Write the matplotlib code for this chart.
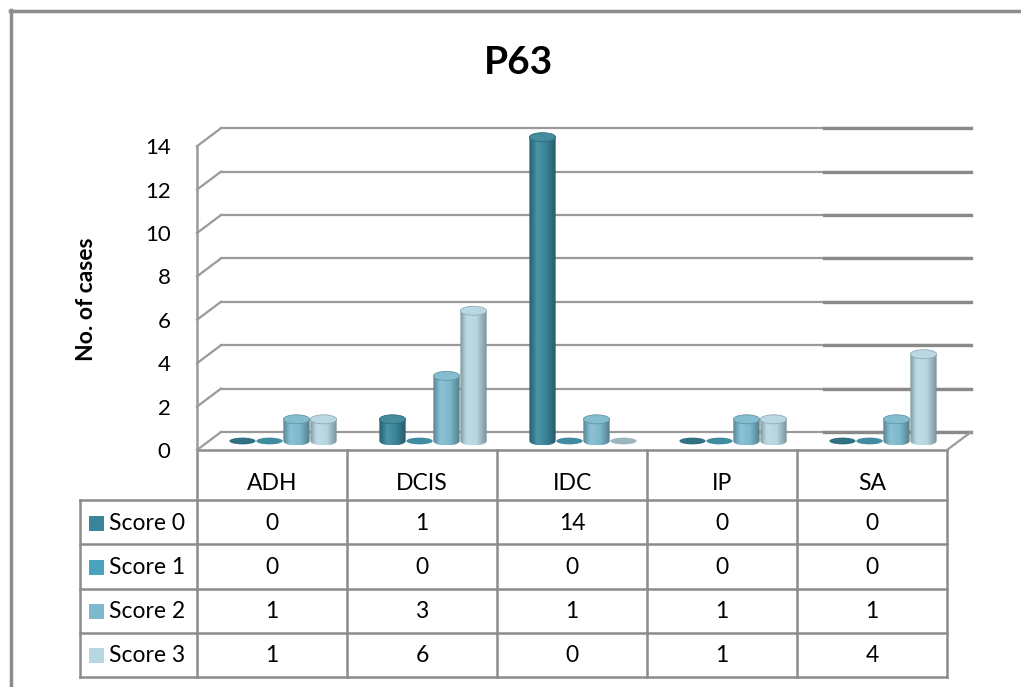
import numpy as np
import matplotlib.pyplot as plt
import matplotlib.colors as mcolors
from matplotlib.patches import PathPatch, Ellipse, Rectangle
from matplotlib.path import Path

plt.rcParams['font.family'] = ['Lato', 'DejaVu Sans']

categories = ['ADH', 'DCIS', 'IDC', 'IP', 'SA']
series_names = ['Score 0', 'Score 1', 'Score 2', 'Score 3']
score0 = [0, 1, 14, 0, 0]
score1 = [0, 0, 0, 0, 0]
score2 = [1, 3, 1, 1, 1]
score3 = [1, 6, 0, 1, 4]
series = [score0, score1, score2, score3]
colors = ['#3a8599', '#4aa3bc', '#7db9cd', '#b6d6e1']
yticks = [0, 2, 4, 6, 8, 10, 12, 14]

W, H = 1021, 687
fig = plt.figure(figsize=(W / 100, H / 100), dpi=100)

# pixel-space layer for frame, title, axis label and data table
bg = fig.add_axes([0, 0, 1, 1])
bg.set_xlim(0, W)
bg.set_ylim(H, 0)
bg.axis('off')

# plot area (front edge): x from 197 to 947 px, 0 at y=450 px
x0, x1 = 197, 947
ybase, ppu = 450, 21.7
ytop = 15.5
ax = fig.add_axes([x0 / W, (H - ybase) / H, (x1 - x0) / W, ytop * ppu / H])
ax.patch.set_alpha(0)
for s in ax.spines.values():
    s.set_visible(False)

# depth offsets in data units (back wall and bar row)
dxb, dyb = 24 / 150, 18 / ppu
dxm, dym = 11 / 150, 9 / ppu
grid_c = '#9a9a9a'

for y in yticks:
    ax.plot([-0.5 + dxb, 4.5 + dxb], [y + dyb, y + dyb], color=grid_c, lw=1.6, zorder=1, clip_on=False)
    ax.plot([3.52 + dxb, 4.5 + dxb], [y + dyb, y + dyb], color='#8a8a8a', lw=2.4, zorder=1, clip_on=False)
    ax.plot([-0.5, -0.5 + dxb], [y, y + dyb], color=grid_c, lw=1.6, zorder=1, clip_on=False)
ax.plot([-0.5, -0.5], [0, 14], color=grid_c, lw=1.8, zorder=1, clip_on=False)
ax.plot([4.5, 4.5 + dxb], [0, dyb], color=grid_c, lw=1.6, zorder=1, clip_on=False)


def shade(rgb, s):
    if s >= 0:
        return rgb + (1 - rgb) * s
    return rgb * (1 + s)


def cylinder(xc, val, color, z):
    w = 0.175
    eh = 9 / ppu
    base = np.array(mcolors.to_rgb(color))
    if val == 0:
        ax.add_patch(Ellipse((xc, dym), w, eh * 0.75, facecolor=shade(base, -0.15),
                             edgecolor='none', zorder=z))
        return
    top = val + dym
    t = np.linspace(np.pi, 2 * np.pi, 40)
    verts = [(xc - w / 2, top)]
    verts += list(zip(xc + w / 2 * np.cos(t), dym + eh / 2 * np.sin(t)))
    verts += [(xc + w / 2, top), (xc - w / 2, top)]
    body = PathPatch(Path(verts, closed=True), facecolor='none', edgecolor='none', zorder=z)
    ax.add_patch(body)
    u = np.linspace(0, 1, 64)
    s = np.interp(u, [0, 0.3, 0.65, 1], [-0.3, 0.12, -0.02, -0.32])
    grad = np.array([shade(base, k) for k in s])[None, :, :]
    im = ax.imshow(grad, extent=[xc - w / 2, xc + w / 2, dym - eh / 2, top],
                   aspect='auto', interpolation='bilinear', zorder=z)
    im.set_clip_path(body)
    ax.add_patch(Ellipse((xc, top), w, eh, facecolor=shade(base, 0.06),
                         edgecolor=shade(base, -0.2), lw=0.6, zorder=z + 0.1))


for j, vals in enumerate(series):
    for i, v in enumerate(vals):
        cylinder(i + (j - 1.5) * 0.18 + dxm, v, colors[j], 3 + j)

ax.set_xlim(-0.5, 4.5)
ax.set_ylim(0, ytop)
ax.set_xticks([])
ax.set_yticks(yticks)
ax.tick_params(axis='y', length=0, pad=19, labelsize=16)

# outer frame
frame_c = '#8c8c8c'
bg.plot([10.5, 10.5], [9.5, H], color=frame_c, lw=2.5)
bg.plot([9.5, W], [10.5, 10.5], color=frame_c, lw=2.5)

bg.text(518, 62, 'P63', fontsize=28, weight='bold', ha='center', va='center')
bg.text(86, 299, 'No. of cases', rotation=90, fontsize=16.5, weight='bold',
        ha='center', va='center')

# data table
line_c = '#8c8c8c'
col_x = np.linspace(x0, x1, len(categories) + 1)
row_y = np.linspace(500, 677, len(series) + 1)
leg_x = 80
for cx in col_x:
    bg.plot([cx, cx], [ybase, row_y[-1]], color=line_c, lw=1.8)
bg.plot([leg_x, leg_x], [row_y[0], row_y[-1]], color=line_c, lw=1.8)
bg.plot([x0, x1], [ybase, ybase], color=line_c, lw=1.8)
for ry in row_y:
    bg.plot([leg_x, x1], [ry, ry], color=line_c, lw=1.8)

fs = 16.5
for i, cat in enumerate(categories):
    cx = (col_x[i] + col_x[i + 1]) / 2
    bg.text(cx, 484, cat, fontsize=fs, ha='center', va='center')
for j, (name, vals) in enumerate(zip(series_names, series)):
    cy = (row_y[j] + row_y[j + 1]) / 2 + 1
    bg.add_patch(Rectangle((89, cy - 7.5), 15, 15, facecolor=colors[j], edgecolor='none'))
    bg.text(109, cy, name, fontsize=fs, ha='left', va='center')
    for i, v in enumerate(vals):
        cx = (col_x[i] + col_x[i + 1]) / 2
        bg.text(cx, cy, str(v), fontsize=fs, ha='center', va='center')

fig.savefig('out.png', dpi=100)
